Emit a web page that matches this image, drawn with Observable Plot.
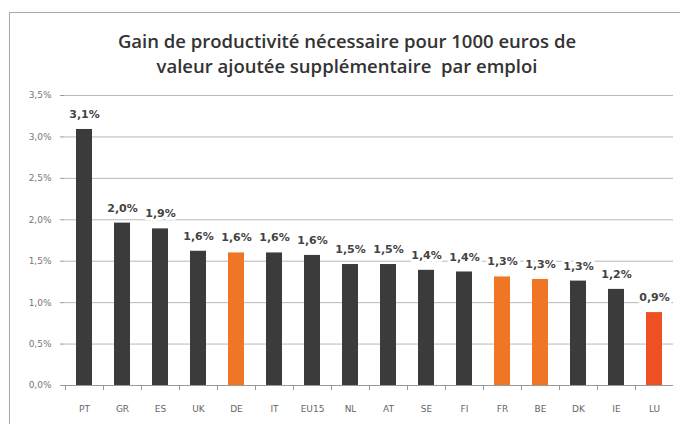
<!DOCTYPE html>
<html>
<head>
<meta charset="utf-8">
<script src="https://cdn.jsdelivr.net/npm/d3@7"></script>
<script src="https://cdn.jsdelivr.net/npm/@observablehq/plot@0.6"></script>
<style>
  html, body { margin: 0; padding: 0; background: #fff; width: 680px; height: 424px; overflow: hidden; }
  #frame { position: absolute; left: 9px; top: 12px; width: 700px; height: 440px; border: 1px solid #a8a8a8; box-sizing: border-box; }
  #title { position: absolute; left: 9px; top: 28px; width: 676px; text-align: center; font-family: "Open Sans", sans-serif; font-weight: 600; font-size: 18.5px; line-height: 25px; color: #333; }
  #chart { position: absolute; left: 0; top: 85px; }
</style>
</head>
<body>
<div id="frame"></div>
<div id="title">Gain de productivité nécessaire pour 1000 euros de<br>valeur ajoutée supplémentaire&nbsp; par emploi</div>
<div id="chart"></div>
<script>
const countries = ["PT","GR","ES","UK","DE","IT","EU15","NL","AT","SE","FI","FR","BE","DK","IE","LU"];
const values = [3.09, 1.96, 1.89, 1.62, 1.60, 1.60, 1.57, 1.46, 1.46, 1.39, 1.37, 1.31, 1.28, 1.26, 1.16, 0.88];
const groups = ["autre","autre","autre","autre","focus","autre","autre","autre","autre","autre","autre","focus","focus","autre","autre","lux"];
const yTicks = [0, 0.5, 1, 1.5, 2, 2.5, 3, 3.5];

const data = countries.map((c, i) => ({country: c, value: values[i], group: groups[i]}));
const fmt = v => v.toFixed(1).replace(".", ",") + "%";

const chart = Plot.plot({
  width: 680,
  height: 339,
  marginTop: 10,
  marginBottom: 39,
  marginLeft: 64,
  marginRight: 7,
  style: {fontFamily: "DejaVu Sans, sans-serif", fontSize: "9px", color: "#666", background: "transparent"},
  x: {domain: countries, paddingInner: 0.58, paddingOuter: 0.29, label: null},
  y: {domain: [0, 3.5], label: null},
  color: {domain: ["autre","focus","lux"], range: ["#3b3b3b","#ee7624","#ee5024"]},
  marks: [
    Plot.gridY(yTicks, {stroke: "#b8b8b8", strokeOpacity: 1, strokeWidth: 1}),
    Plot.axisY(yTicks, {tickFormat: fmt, tickSize: 4, tickPadding: 9, stroke: "#999", fill: "#777", fontSize: 9}),
    Plot.ruleX([0], {frameAnchor: "left", stroke: "#999"}),
    Plot.barY(data, {x: "country", y: "value", fill: "group"}),
    Plot.ruleY([0], {stroke: "#999"}),
    Plot.axisX({tickSize: 0, tickPadding: 20, fill: "#666", fontSize: 9}),
    Plot.axisX({tickSize: 5, text: null, dx: -19, stroke: "#999"}),
    Plot.text(data, {x: "country", y: "value", text: d => fmt(d.value), dy: -15, fontWeight: "bold", fontSize: 11, fill: "#444", stroke: "white", strokeWidth: 6, fontFamily: "DejaVu Sans, sans-serif"})
  ]
});
document.getElementById("chart").appendChild(chart);
</script>
</body>
</html>
